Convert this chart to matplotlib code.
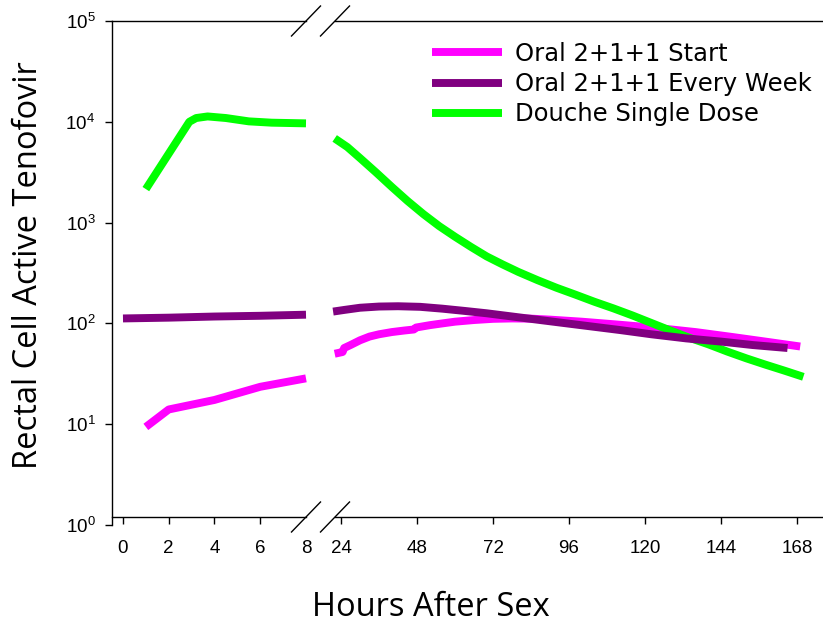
import matplotlib
matplotlib.use('Agg')
import matplotlib.pyplot as plt
from matplotlib.lines import Line2D

plt.rcParams['font.family'] = ['Liberation Sans', 'DejaVu Sans']
plt.rcParams['mathtext.default'] = 'regular'

# Oral 2+1+1 Start (horas 0-8 y 24-168)
h_start_a = [1, 2, 4, 6, 8]
v_start_a = [9.4, 14, 17.4, 23.5, 28.5]
h_start_b = [22, 24.5, 25, 27, 30, 33, 36, 40, 44, 47, 47.7, 52, 56, 60, 66, 72, 78, 84, 90,
             100, 112, 124, 136, 148, 158, 169]
v_start_b = [50, 52, 57, 61, 68, 74, 78, 82, 85, 87, 91, 96, 100, 104, 108, 111, 112, 111.5, 109,
             104, 97, 90, 82, 73, 66, 59]

# Oral 2+1+1 Every Week
h_week_a = [0, 2, 4, 6, 8]
v_week_a = [112, 114, 117, 119, 122]
h_week_b = [21.5, 25, 30, 36, 42, 49, 56, 63, 70, 80, 91, 101, 112, 122, 133, 144, 154, 165]
v_week_b = [131, 136, 143, 147, 148, 146, 140, 133, 126, 115, 104, 95, 86, 78, 71, 66, 61, 57]

# Douche Single Dose
h_douche_a = [1, 2.9, 3.2, 3.7, 4.5, 5.5, 6.5, 8]
v_douche_a = [2150, 10000, 10900, 11300, 10900, 10100, 9800, 9650]
h_douche_b = [22, 26, 30, 35, 40, 45, 50, 55, 60, 65, 70, 75, 80, 86, 92, 98, 104, 110, 116,
              122, 128, 134, 140, 146, 152, 158, 164, 170]
v_douche_b = [6840, 5620, 4365, 3160, 2265, 1640, 1215, 923, 724, 575, 462, 385, 324, 269, 226,
              193, 164, 141, 120, 101, 85, 72, 62, 52.5, 45, 39, 34, 29.5]

ticks_izq = [0, 2, 4, 6, 8]
ticks_der = [24, 48, 72, 96, 120, 144, 168]
ticks_y = [1, 10, 100, 1000, 10000, 100000]
etiquetas_y = [r'$10^{%d}$' % i for i in range(6)]

W, H = 823, 624
fig = plt.figure(figsize=(W / 100, H / 100), dpi=100)

def px(x0, y0, x1, y1):
    # caja en pixeles -> fraccion de figura
    return [x0 / W, 1 - y1 / H, (x1 - x0) / W, (y1 - y0) / H]

ax1 = fig.add_axes(px(112, 21, 306, 525))
ax2 = fig.add_axes(px(335, 21, 823, 525))

lw = 5.7
colores = {'start': '#ff00ff', 'week': '#800080', 'douche': '#00ff00'}

for ax, seg in [(ax1, 'a'), (ax2, 'b')]:
    d = globals()
    ax.plot(d['h_start_' + seg], d['v_start_' + seg], color=colores['start'], lw=lw,
            solid_capstyle='butt', zorder=2, clip_on=False)
    ax.plot(d['h_douche_' + seg], d['v_douche_' + seg], color=colores['douche'], lw=lw,
            solid_capstyle='butt', zorder=3, clip_on=False)
    ax.plot(d['h_week_' + seg], d['v_week_' + seg], color=colores['week'], lw=lw,
            solid_capstyle='butt', zorder=4, clip_on=False)
    ax.set_yscale('log')
    ax.set_ylim(1, 1e5)
    ax.minorticks_off()
    ax.spines['right'].set_visible(False)
    ax.spines['bottom'].set_position(('data', 1.19))
    for s in ax.spines.values():
        s.set_linewidth(1)
    ax.tick_params(axis='x', direction='out', length=5, width=1, labelsize=13.5, pad=11)
    ax.tick_params(axis='y', direction='out', length=5, width=1, labelsize=13.5, pad=7)

ax1.set_xlim(-0.48, 8)
ax1.set_xticks(ticks_izq)
ax1.set_yticks(ticks_y)
ax1.set_yticklabels(etiquetas_y)

ax2.set_xlim(22.1, 176.2)
ax2.set_xticks(ticks_der)
ax2.spines['left'].set_visible(False)
ax2.tick_params(axis='y', left=False, labelleft=False)
# ocultar la marca del 8 (queda bajo el corte)
ax1.xaxis.get_major_ticks()[-1].tick1line.set_visible(False)

# marcas de corte
for cx in [306, 335]:
    for cy in [21, 517]:
        fig.add_artist(Line2D([(cx - 14.5) / W, (cx + 14.5) / W],
                              [1 - (cy + 15) / H, 1 - (cy - 15) / H],
                              transform=fig.transFigure, color='black', lw=1))

fig.text(29 / W, 1 - 265 / H, 'Rectal Cell Active Tenofovir', rotation=90,
         ha='center', va='center', fontsize=23.5, family='Open Sans')
fig.text(431 / W, 1 - 607 / H, 'Hours After Sex', ha='center', va='center',
         fontsize=23.5, family='Open Sans')

handles = [Line2D([], [], color=colores['start'], lw=lw, solid_capstyle='butt'),
           Line2D([], [], color=colores['week'], lw=lw, solid_capstyle='butt'),
           Line2D([], [], color=colores['douche'], lw=lw, solid_capstyle='butt')]
etiquetas = ['Oral 2+1+1 Start', 'Oral 2+1+1 Every Week', 'Douche Single Dose']
fig.legend(handles, etiquetas, loc='upper left', bbox_to_anchor=(432 / W, 1 - 42 / H),
           bbox_transform=fig.transFigure, frameon=False,
           prop={'family': 'DejaVu Sans', 'size': 17.5},
           handlelength=2.9, handletextpad=0.53, labelspacing=0.25, borderpad=0,
           borderaxespad=0)

fig.savefig('out.png', dpi=100)
